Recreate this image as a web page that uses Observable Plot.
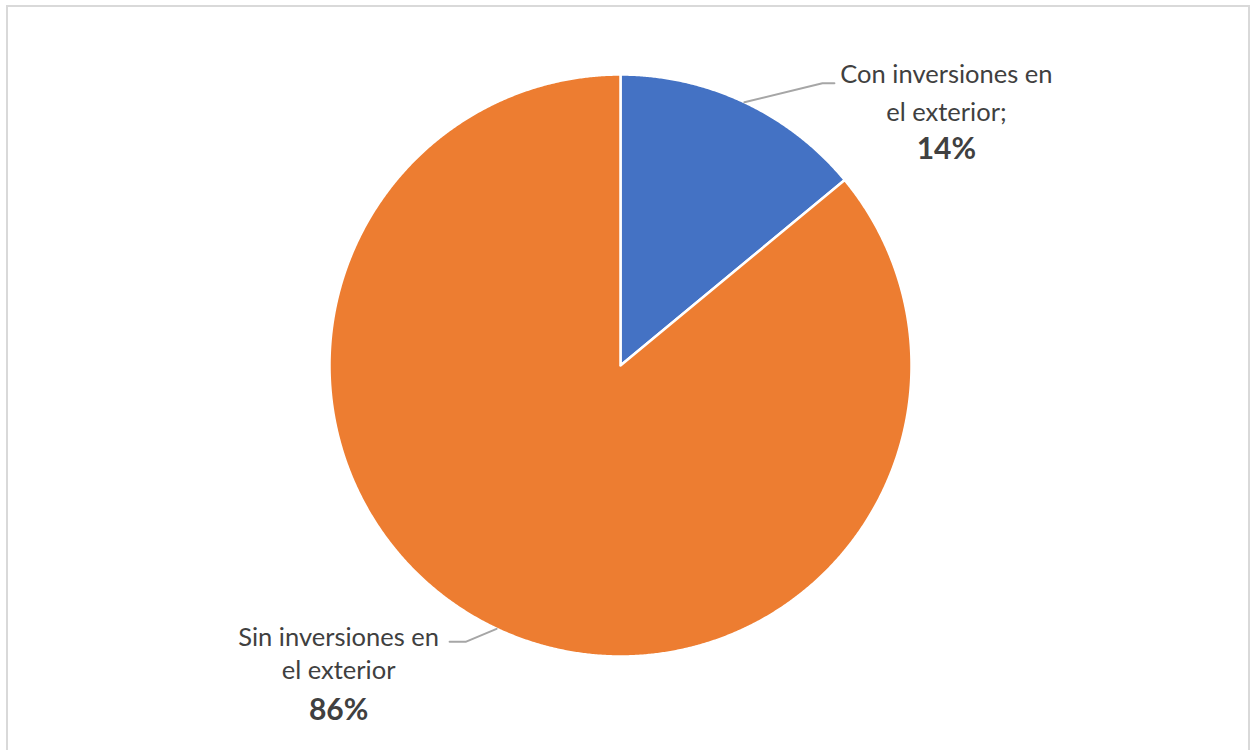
<!DOCTYPE html>
<html>
<head>
<meta charset="utf-8">
<script src="https://cdn.jsdelivr.net/npm/d3@7"></script>
<script src="https://cdn.jsdelivr.net/npm/@observablehq/plot@0.6"></script>
<style>
  html, body { margin: 0; padding: 0; background: #fff; overflow: hidden; }
  #wrap { position: relative; width: 1251px; height: 750px; }
  #border { position: absolute; left: 6px; top: 5px; width: 1244px; height: 760px; border: 2px solid #d9d9d9; box-sizing: border-box; }
  #chart { position: absolute; left: 0; top: 0; }
</style>
</head>
<body>
<div id="wrap"><div id="border"></div><div id="chart"></div></div>
<script>
const categories = ["Con inversiones en el exterior", "Sin inversiones en el exterior"];
const values = [14, 86];
const colors = ["#4472c4", "#ed7d31"];
const labelLines = [["Con inversiones en", "el exterior;"], ["Sin inversiones en", "el exterior"]];
const pctLabels = ["14%", "86%"];

// styling: label placement offsets (pixels) relative to slice mid-angle on the rim
const labelStyle = [
  {elbow: [78, -19], end: [90, -19], text: [202, -27], dy: [0, 38, 74]},
  {elbow: [-31, 13], end: [-47, 13], text: [-158, 9], dy: [0, 33, 73]}
];

const total = d3.sum(values);
const slices = [];
let acc = 0;
values.forEach((v, i) => {
  const a0 = acc / total * 2 * Math.PI;
  acc += v;
  const a1 = acc / total * 2 * Math.PI;
  slices.push({i, cat: categories[i], a0, a1, mid: (a0 + a1) / 2});
});

const polyPts = [];
for (const s of slices) {
  polyPts.push({cat: s.cat, x: 0, y: 0});
  const n = Math.max(2, Math.ceil((s.a1 - s.a0) / 0.005));
  for (let k = 0; k <= n; k++) {
    const a = s.a0 + (s.a1 - s.a0) * k / n;
    polyPts.push({cat: s.cat, x: Math.sin(a), y: Math.cos(a)});
  }
  polyPts.push({cat: s.cat, x: 0, y: 0});
}

const W = 1251, H = 750;
const mL = 329, mR = 340, mT = 74, mB = 94;
const sx = (W - mL - mR) / 2, sy = (H - mT - mB) / 2;

const leaders = [];
const texts = [];
const pcts = [];
for (const s of slices) {
  const st = labelStyle[s.i];
  const rx = Math.sin(s.mid), ry = Math.cos(s.mid);
  leaders.push({cat: s.cat, x: rx, y: ry});
  leaders.push({cat: s.cat, x: rx + st.elbow[0] / sx, y: ry - st.elbow[1] / sy});
  leaders.push({cat: s.cat, x: rx + st.end[0] / sx, y: ry - st.end[1] / sy});
  const tx = rx + st.text[0] / sx;
  labelLines[s.i].forEach((t, j) => texts.push({x: tx, y: ry - (st.text[1] + st.dy[j]) / sy, t}));
  pcts.push({x: tx, y: ry - (st.text[1] + st.dy[2]) / sy, t: pctLabels[s.i]});
}

const plot = Plot.plot({
  width: W, height: H,
  marginLeft: mL, marginRight: mR, marginTop: mT, marginBottom: mB,
  x: {domain: [-1, 1], axis: null},
  y: {domain: [-1, 1], axis: null},
  color: {domain: categories, range: colors},
  style: {fontFamily: "Lato, 'Open Sans', sans-serif", background: "transparent"},
  marks: [
    Plot.line(polyPts, {x: "x", y: "y", z: "cat", fill: "cat", stroke: "white", strokeWidth: 2.5, strokeLinejoin: "round"}),
    Plot.line(leaders, {x: "x", y: "y", z: "cat", stroke: "#a6a6a6", strokeWidth: 2}),
    Plot.text(texts, {x: "x", y: "y", text: "t", fill: "#404040", fontSize: 25.5, textAnchor: "middle"}),
    Plot.text(pcts, {x: "x", y: "y", text: "t", fill: "#404040", fontSize: 30, fontWeight: "bold", textAnchor: "middle"})
  ]
});
document.getElementById("chart").appendChild(plot);
</script>
</body>
</html>
